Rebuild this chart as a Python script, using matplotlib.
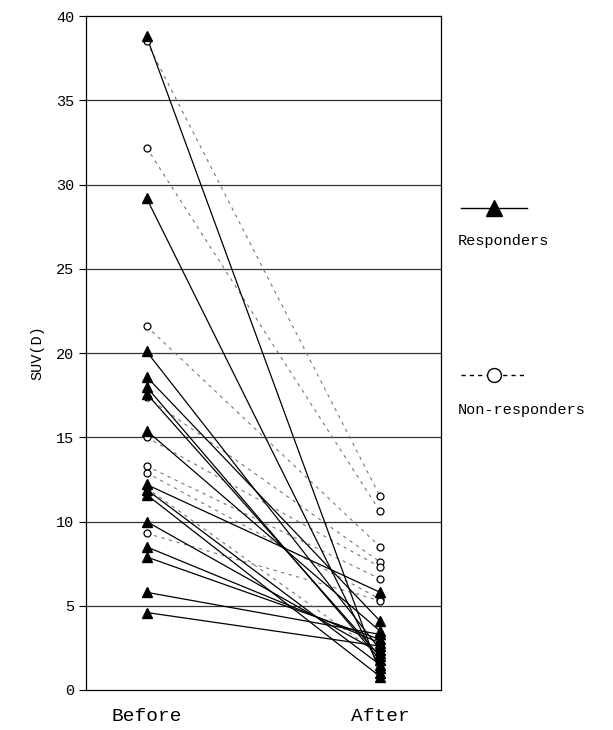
import matplotlib
matplotlib.use("Agg")
from matplotlib import pyplot as plt
from matplotlib.lines import Line2D

# SUV(D) before / after therapy
resp_before = [38.8, 29.2, 20.1, 18.6, 18.0, 17.6, 15.4, 12.2, 11.9, 11.6, 10.0, 8.5, 7.9, 5.8, 4.6]
resp_after = [1.0, 1.3, 2.4, 4.1, 1.8, 2.0, 3.5, 5.8, 1.5, 0.8, 2.2, 2.8, 3.0, 3.3, 2.6]

nonresp_before = [38.5, 32.2, 21.6, 17.4, 15.0, 13.3, 12.9, 12.0, 9.3]
nonresp_after = [11.5, 10.6, 8.5, 7.6, 7.3, 6.6, 5.4, 2.1, 5.3]

x_labels = ["Before", "After"]
y_ticks = [0, 5, 10, 15, 20, 25, 30, 35, 40]

plt.rcParams['font.family'] = ['Liberation Mono', 'DejaVu Sans Mono']

fig = plt.figure(figsize=(6.13, 7.30), dpi=100)
ax = fig.add_axes([0.140, 0.0548, 0.579, 0.923])

for b, a in zip(nonresp_before, nonresp_after):
    ax.plot([1, 2], [b, a], color="#777777", lw=0.8, linestyle=(0, (3, 4)), zorder=2)
for b, a in zip(resp_before, resp_after):
    ax.plot([1, 2], [b, a], color="black", lw=0.9, zorder=3)

ax.plot([1] * len(nonresp_before), nonresp_before, "o", ms=5, mfc="white", mec="black", mew=0.9, zorder=4)
ax.plot([2] * len(nonresp_after), nonresp_after, "o", ms=5, mfc="white", mec="black", mew=0.9, zorder=4)
ax.plot([1] * len(resp_before), resp_before, "^", ms=7, color="black", zorder=5)
ax.plot([2] * len(resp_after), resp_after, "^", ms=7, color="black", zorder=5)

ax.set_xlim(0.74, 2.26)
ax.set_ylim(0, 40)
ax.set_yticks(y_ticks)
ax.set_xticks([1, 2])
ax.set_xticklabels(x_labels, fontsize=14)
ax.tick_params(axis="x", length=0, pad=13)
ax.tick_params(axis="y", length=5, width=0.8, labelsize=11, direction="out")
for y in y_ticks[1:-1]:
    ax.axhline(y, color="#333333", lw=0.9, zorder=1)
for s in ax.spines.values():
    s.set_linewidth(0.9)
ax.set_ylabel("SUV(D)", fontsize=11, labelpad=8)

# legend drawn by hand on the right
fig.add_artist(Line2D([461 / 613, 527 / 613], [1 - 208 / 730] * 2, color="black", lw=1.0))
fig.add_artist(Line2D([494 / 613], [1 - 208 / 730], marker="^", ms=11, color="black"))
fig.text(458 / 613, 1 - 241 / 730, "Responders", fontsize=11, va="center")
fig.add_artist(Line2D([461 / 613, 527 / 613], [1 - 375 / 730] * 2, color="black", lw=1.0, linestyle=(0, (3, 3))))
fig.add_artist(Line2D([494 / 613], [1 - 375 / 730], marker="o", ms=10, mfc="white", mec="black", mew=1.0))
fig.text(458 / 613, 1 - 410 / 730, "Non-responders", fontsize=11, va="center")

fig.savefig("out.png", dpi=100)
